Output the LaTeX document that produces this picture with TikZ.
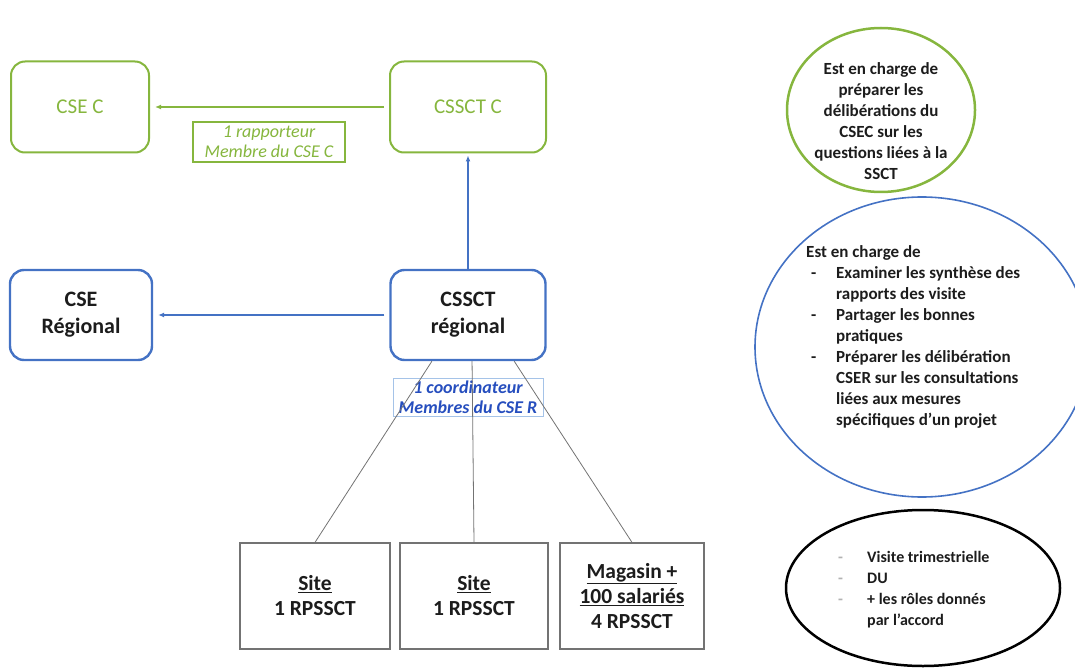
\documentclass[tikz,border=0pt]{standalone}
\usepackage{fontspec}
\setmainfont{Carlito}
\usepackage{xcolor}
\usetikzlibrary{arrows.meta}
\usetikzlibrary{shapes}
\usetikzlibrary{calc}

\definecolor{vertcse}{RGB}{134,182,62}
\definecolor{bleucse}{RGB}{68,114,196}
\definecolor{bleuclair}{RGB}{165,195,232}
\definecolor{bleutexte}{RGB}{38,78,190}
\definecolor{grisbord}{RGB}{115,115,115}
\definecolor{encre}{RGB}{28,28,28}

\newcommand{\puce}{\makebox[30pt][l]{\hspace{5pt}-}}
\newcommand{\retrait}{\hspace*{30pt}}
\newcommand{\pucegris}{\makebox[31pt][l]{\hspace{2pt}\textcolor{black!30}{-}}}

\tikzset{
  boitevert/.style={draw=vertcse, line width=2pt, rounded corners=14pt, text=vertcse,
    font=\fontsize{21}{24}\selectfont, align=center, minimum height=91pt},
  boitebleu/.style={draw=bleucse, line width=2.4pt, rounded corners=14pt, text=encre,
    font=\bfseries\fontsize{22}{27}\selectfont, align=center, minimum height=90pt},
  boitesite/.style={draw=grisbord, line width=1.2pt, minimum height=106pt, text=encre,
    font=\bfseries\fontsize{21.5}{25}\selectfont, align=center},
  etiqvert/.style={draw=vertcse, line width=1.5pt, text=vertcse, inner sep=1pt,
    font=\itshape\fontsize{18}{20}\selectfont, align=center, minimum width=152pt, minimum height=40pt},
  etiqbleu/.style={draw=bleuclair, line width=0.6pt, text=bleutexte, inner sep=1pt,
    font=\bfseries\itshape\fontsize{18}{20}\selectfont, align=center, minimum width=150pt, minimum height=38pt},
  fleche/.style={-{Latex[length=6pt,width=5pt]}, line width=1.2pt},
  lien/.style={draw=grisbord, line width=0.8pt},
  bulle/.style={ellipse, draw, inner sep=0pt},
  texte/.style={text=encre, font=\bfseries\fontsize{17}{21}\selectfont, inner sep=0pt},
}

\begin{document}
\begin{tikzpicture}[x=1pt,y=-1pt]
	\useasboundingbox (0,0) rectangle (1075,668);

	% draw boxes
	\node[boitevert, minimum width=138pt] (csec) at (80,107) {CSE C};
	\node[boitevert, minimum width=156pt] (cssctc) at (468,107) {CSSCT C};
	\node[boitebleu, minimum width=142pt] (cser) at (81,315) {CSE\\Régional};
	\node[boitebleu, minimum width=155pt] (cssctr) at (468,315) {CSSCT\\régional};

	% draw labels
	\node[etiqvert] (rapporteur) at (269,142) {1 rapporteur\\Membre du CSE C};
	\node[etiqbleu] (coordinateur) at (468,397) {1 coordinateur\\Membres du CSE R};

	% draw sites
	\node[boitesite, minimum width=150pt] (site1) at (315,596) {\underline{Site}\\1 RPSSCT};
	\node[boitesite, minimum width=148pt] (site2) at (474,596) {\underline{Site}\\1 RPSSCT};
	\node[boitesite, minimum width=144pt] (magasin) at (632,596) {\underline{Magasin +}\\\underline{100 salariés}\\4 RPSSCT};

	% draw arrows
	\draw[fleche, vertcse, shorten <=5pt, shorten >=5pt] (cssctc.west) -- (csec.east);
	\draw[fleche, bleucse, shorten <=5pt, shorten >=5pt] (cssctr.west) -- (cser.east);
	\draw[fleche, bleucse, shorten >=2pt] (cssctr.north) -- (cssctc.south);

	% draw lines to sites
	\draw[lien] (cssctr.-128) -- (site1.north);
	\draw[lien] (cssctr.-85) -- (site2.north);
	\draw[lien] (cssctr.-45) -- (magasin.north);

	% draw ellipses
	\node[bulle, draw=vertcse, line width=2.5pt, minimum width=188pt, minimum height=164pt] (bullevert) at (881,110) {};
	\node[bulle, draw=bleucse, line width=1.6pt, minimum width=334pt, minimum height=300pt] (bullebleu) at (922,347) {};
	\node[bulle, draw=black, line width=2.5pt, minimum width=274pt, minimum height=156pt] (bullenoir) at (923,588) {};

	% draw ellipse texts
	\node[texte, align=center] (txtvert) at (bullevert.center) [yshift=-11pt] {Est en charge de\\préparer les\\délibérations du\\CSEC sur les\\questions liées à la\\SSCT};
	\node[texte, align=left, anchor=west] (txtbleu) at (806,337) {Est en charge de\\
		\puce Examiner les synthèse des\\
		\retrait rapports des visite\\
		\puce Partager les bonnes\\
		\retrait pratiques\\
		\puce Préparer les délibération\\
		\retrait CSER sur les consultations\\
		\retrait liées aux mesures\\
		\retrait spécifiques d’un projet};
	\node[texte, font=\bfseries\fontsize{16}{21}\selectfont, align=left, anchor=west] (txtnoir) at (836,590) {\pucegris Visite trimestrielle\\
		\pucegris DU\\
		\pucegris + les rôles donnés\\
		\hspace*{31pt}par l’accord};
\end{tikzpicture}
\end{document}
